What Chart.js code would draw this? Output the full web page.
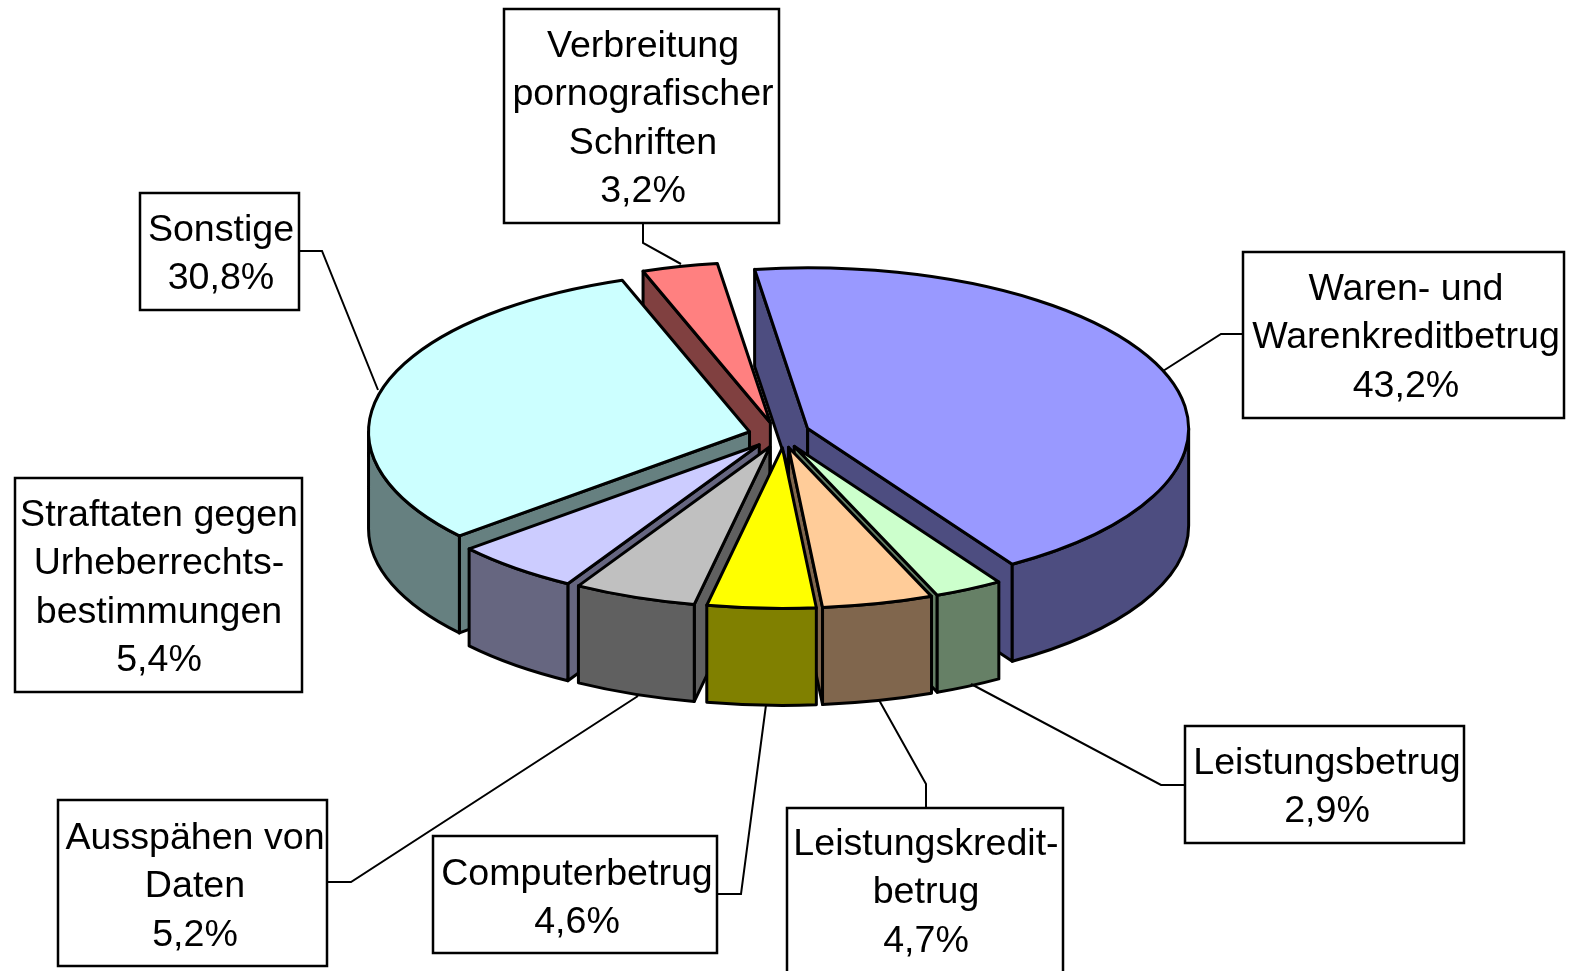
<!DOCTYPE html>
<html lang="de">
<head>
<meta charset="utf-8">
<style>html,body{margin:0;padding:0;background:#fff;overflow:hidden}canvas{display:block}</style>
<script src="https://cdn.jsdelivr.net/npm/chart.js@4"></script>
</head>
<body>
<canvas id="c" width="1570" height="971"></canvas>
<script>
const categories = ['Waren- und Warenkreditbetrug','Leistungsbetrug','Leistungskreditbetrug','Computerbetrug','Ausspähen von Daten','Straftaten gegen Urheberrechtsbestimmungen','Sonstige','Verbreitung pornografischer Schriften'];
const values = [43.2, 2.9, 4.7, 4.6, 5.2, 5.4, 30.8, 3.2];
const topColors = ['#9999FF','#CCFFCC','#FFCC99','#FFFF00','#C0C0C0','#CCCCFF','#CCFFFF','#FF8080'];
const sideColors = ['#4D4D80','#668066','#80664D','#808000','#606060','#666680','#668080','#804040'];
const labelLines = [
  ['Waren- und','Warenkreditbetrug'],['Leistungsbetrug'],['Leistungskredit-','betrug'],['Computerbetrug'],
  ['Ausspähen von','Daten'],['Straftaten gegen','Urheberrechts-','bestimmungen'],['Sonstige'],['Verbreitung','pornografischer','Schriften']
];
// label boxes: left, top, right, bottom, centre x, first baseline
const boxes = [
  [1243,252,1564,418,1406,300],[1185,726,1464,843,1327,774],[787,808,1063,975,926,855],[433,836,717,953,577,885],
  [58,800,327,966,195,849],[15,478,302,692,159,526],[140,193,299,310,221,241],[504,9,779,223,643,57]
];
const leaders = [
  [[1243,334],[1221,334],[1163,371]],[[1185,785],[1161,785],[971,684]],[[926,808],[926,784],[879,700]],[[717,894],[741,894],[766,705]],
  [[327,882],[351,882],[638,696]],null,[[299,251],[322,251],[378,390]],[[643,223],[643,243],[681,264]]
];
// per-slice fine placement relative to the regular explosion (x, y)
const sliceNudge = [[2,-2],[3,0],[4,0],[6.5,0],[3,0],[1,0],[1,0],[0,0]];
const TILT = 0.422, DEPTH = 97, EXPLODE = 30, FONT_PX = 37.6, LINE_H = 48.4;

const pie3d = {
  id: 'pie3d',
  beforeDatasetsDraw(chart) {
    const ctx = chart.ctx, arcs = chart.getDatasetMeta(0).data;
    const slices = arcs.map((a, i) => {
      const mid = (a.startAngle + a.endAngle) / 2;
      const cx = a.x + Math.cos(mid) * EXPLODE + sliceNudge[i][0];
      const cy = a.y + Math.sin(mid) * EXPLODE * TILT + sliceNudge[i][1];
      return {i, cx, cy, r: a.outerRadius, s: a.startAngle, e: a.endAngle, mid};
    });
    const pt = (p, t) => [p.cx + Math.cos(t) * p.r, p.cy + Math.sin(t) * p.r * TILT];
    const ell = (p, from, to, ccw, dy) => ctx.ellipse(p.cx, p.cy + (dy || 0), p.r, p.r * TILT, 0, from, to, ccw);
    ctx.save();
    ctx.lineWidth = 3; ctx.strokeStyle = '#000'; ctx.lineJoin = 'round';
    const paint = () => { ctx.fill(); ctx.stroke(); };
    slices.slice().sort((a, b) => Math.sin(a.mid) - Math.sin(b.mid)).forEach(p => {
      ctx.fillStyle = sideColors[p.i];
      // radial cut faces: only those turned towards the viewer
      [[p.s, Math.cos(p.s) < 0], [p.e, Math.cos(p.e) > 0]].forEach(([t, visible]) => {
        if (!visible) return;
        const q = pt(p, t);
        ctx.beginPath();
        ctx.moveTo(p.cx, p.cy); ctx.lineTo(q[0], q[1]); ctx.lineTo(q[0], q[1] + DEPTH); ctx.lineTo(p.cx, p.cy + DEPTH);
        ctx.closePath(); paint();
      });
      // outer wall: only the part facing the viewer
      const TAU = Math.PI * 2;
      for (let k = -1; k <= 1; k++) {
        const from = Math.max(p.s, k * TAU), to = Math.min(p.e, k * TAU + Math.PI);
        if (to <= from) continue;
        ctx.beginPath();
        ell(p, from, to, false, 0);
        ell(p, to, from, true, DEPTH);
        ctx.closePath(); paint();
      }
      // top face
      ctx.fillStyle = topColors[p.i];
      ctx.beginPath();
      ctx.moveTo(p.cx, p.cy);
      ell(p, p.s, p.e, false, 0);
      ctx.closePath(); paint();
    });
    ctx.restore();
    return false;
  },
  afterDraw(chart) {
    const ctx = chart.ctx;
    ctx.save();
    ctx.strokeStyle = '#000'; ctx.lineJoin = 'miter';
    ctx.lineWidth = 2;
    leaders.forEach(l => {
      if (!l) return;
      ctx.beginPath();
      l.forEach((q, j) => j ? ctx.lineTo(q[0], q[1]) : ctx.moveTo(q[0], q[1]));
      ctx.stroke();
    });
    ctx.font = FONT_PX + 'px "Liberation Sans", Arial, sans-serif';
    ctx.textAlign = 'center'; ctx.textBaseline = 'alphabetic'; ctx.fillStyle = '#000';
    ctx.lineWidth = 2.5;
    boxes.forEach((b, i) => {
      ctx.strokeRect(b[0], b[1], b[2] - b[0], b[3] - b[1]);
      const lines = labelLines[i].concat(values[i].toFixed(1).replace('.', ',') + '%');
      lines.forEach((t, j) => ctx.fillText(t, b[4], b[5] + j * LINE_H));
    });
    ctx.restore();
  }
};

new Chart(document.getElementById('c'), {
  type: 'pie',
  data: { labels: categories, datasets: [{ data: values, backgroundColor: topColors }] },
  options: {
    responsive: false, animation: false, rotation: -8,
    layout: { padding: { left: 395.5, right: 410.5, top: 53, bottom: 154 } },
    plugins: { legend: { display: false }, tooltip: { enabled: false } }
  },
  plugins: [pie3d]
});
</script>
</body>
</html>
